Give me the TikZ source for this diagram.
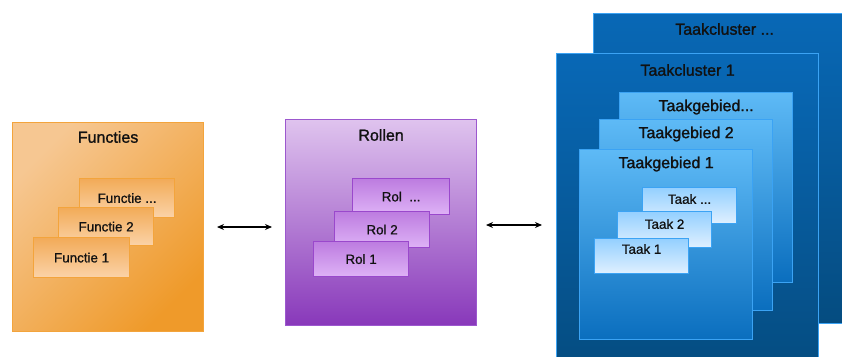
\documentclass[tikz,border=0pt]{standalone}
\usepackage{fontspec}
\setmainfont{Liberation Sans}
\newfontfamily\ttlfam[FakeBold=1.3]{Liberation Sans}
\newfontfamily\labfam[FakeBold=0.9]{Liberation Sans}
\usetikzlibrary{arrows.meta}
\definecolor{txt}{HTML}{111111}
\definecolor{orTL}{HTML}{F6C792}
\definecolor{orBR}{HTML}{EF9A2A}
\definecolor{orBd}{HTML}{F3A43C}
\definecolor{orInT}{HTML}{F2AB58}
\definecolor{orInB}{HTML}{FBD3A8}
\definecolor{puT}{HTML}{DFC3EE}
\definecolor{puB}{HTML}{8838BA}
\definecolor{puBd}{HTML}{9C58CE}
\definecolor{puInT}{HTML}{BD7CE0}
\definecolor{puInB}{HTML}{DEB2F6}
\definecolor{puInBd}{HTML}{9A48CC}
\definecolor{clT}{HTML}{0868B6}
\definecolor{clB}{HTML}{054C80}
\definecolor{blBd}{HTML}{3BA3F4}
\definecolor{gbT}{HTML}{5EBAF6}
\definecolor{gbB}{HTML}{0A6EBE}
\definecolor{tkT}{HTML}{94D0FF}
\definecolor{tkB}{HTML}{E0F0FF}
\tikzset{
  every node/.style={text=txt},
  titlefont/.style={font=\ttlfam\fontsize{16}{18}\selectfont},
  labfont/.style={font=\labfam\fontsize{13.4}{15}\selectfont},
  boxbase/.style={rectangle, inner sep=0pt, anchor=north west, line width=1.2pt},
  bigor/.style={boxbase, draw=orBd, top color=orTL, bottom color=orBR, shading angle=45},
  smor/.style={boxbase, draw=orBd, top color=orInT, bottom color=orInB, labfont},
  bigpu/.style={boxbase, draw=puBd, top color=puT, bottom color=puB},
  smpu/.style={boxbase, draw=puInBd, top color=puInT, bottom color=puInB, labfont},
  clbox/.style={boxbase, draw=blBd, top color=clT, bottom color=clB},
  gbbox/.style={boxbase, draw=blBd, top color=gbT, bottom color=gbB},
  tkbox/.style={boxbase, draw=blBd, top color=tkT, bottom color=tkB},
  conn/.style={{Stealth[length=7pt,width=6pt]}-{Stealth[length=7pt,width=6pt]}, line width=1.1pt, black},
}
\begin{document}
\begin{tikzpicture}[x=1pt,y=-1pt]
\clip (0,0) rectangle (842,356);
\fill[white] (0,0) rectangle (842,356);
% Functies
\node[bigor, minimum width=191pt, minimum height=209pt,
  label={[titlefont, anchor=center, yshift=-15pt]north:Functies}] (F) at (12,122) {};
\node[smor, minimum width=95pt, minimum height=39pt] (F3) at (79,178) {Functie ...};
\node[smor, minimum width=95pt, minimum height=38pt] (F2) at (58,207) {Functie 2};
\node[smor, minimum width=96pt, minimum height=40pt] (F1) at (33,237) {Functie 1};
% Rollen
\node[bigpu, minimum width=191pt, minimum height=206pt,
  label={[titlefont, anchor=center, yshift=-16pt]north:Rollen}] (R) at (285,119) {};
\node[smpu, minimum width=97pt, minimum height=36pt] (R3) at (352,178) {Rol\ \ ...};
\node[smpu, minimum width=95pt, minimum height=36pt] (R2) at (334,211) {Rol 2};
\node[smpu, minimum width=95pt, minimum height=35pt] (R1) at (313,241) {Rol 1};
% Taakclusters
\node[clbox, minimum width=262pt, minimum height=310pt,
  label={[titlefont, anchor=center, yshift=-16pt]north:Taakcluster ...}] (C2) at (593,13) {};
\node[clbox, minimum width=262pt, minimum height=320pt,
  label={[titlefont, anchor=center, yshift=-17pt]north:Taakcluster 1}] (C1) at (556,53) {};
\node[gbbox, minimum width=173pt, minimum height=190pt,
  label={[titlefont, anchor=center, yshift=-15pt]north:Taakgebied...}] (G3) at (619,92) {};
\node[gbbox, minimum width=173pt, minimum height=191pt,
  label={[titlefont, anchor=center, yshift=-15pt]north:Taakgebied 2}] (G2) at (599,119) {};
\node[gbbox, minimum width=173pt, minimum height=190pt,
  label={[titlefont, anchor=center, yshift=-15pt]north:Taakgebied 1}] (G1) at (579,149) {};
\node[tkbox, minimum width=94pt, minimum height=36pt,
  label={[labfont, anchor=center, yshift=-12pt]north:Taak ...}] (T3) at (642,187) {};
\node[tkbox, minimum width=94pt, minimum height=36pt,
  label={[labfont, anchor=center, yshift=-13pt]north:Taak 2}] (T2) at (617,211) {};
\node[tkbox, minimum width=94pt, minimum height=35pt,
  label={[labfont, anchor=center, yshift=-11pt]north:Taak 1}] (T1) at (594,238) {};
% connectors
\coordinate (a1) at (217,227);
\coordinate (a2) at (272,227);
\coordinate (b1) at (486,225);
\coordinate (b2) at (542,225);
\draw[conn] (a1) -- (a2);
\draw[conn] (b1) -- (b2);
\end{tikzpicture}
\end{document}
